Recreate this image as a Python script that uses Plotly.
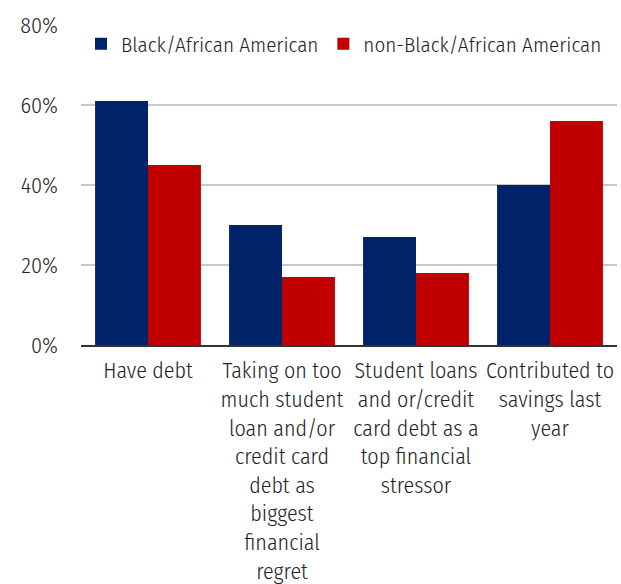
import plotly.graph_objects as go

categories = [
    "Have debt",
    "Taking on too<br>much student<br>loan and/or<br>credit card<br>debt as<br>biggest<br>financial<br>regret",
    "Student loans<br>and or/credit<br>card debt as a<br>top financial<br>stressor",
    "Contributed to<br>savings last<br>year",
]
black_values = [61, 30, 27, 40]
non_black_values = [45, 17, 18, 56]
series_names = ["Black/African American", "non-Black/African American"]
y_ticks = [0, 20, 40, 60, 80]
y_tick_labels = ["0%", "20%", "40%", "60%", "80%"]

FONT = "Fira Sans Condensed Light, Fira Sans Condensed, sans-serif"

fig = go.Figure()
fig.add_trace(go.Bar(x=categories, y=black_values, name=series_names[0],
                     marker=dict(color="#002369", line_width=0)))
fig.add_trace(go.Bar(x=categories, y=non_black_values, name=series_names[1],
                     marker=dict(color="#C00000", line_width=0)))

fig.update_layout(
    width=621, height=584,
    margin=dict(l=81, r=4, t=25, b=239),
    paper_bgcolor="white", plot_bgcolor="white",
    barmode="group", bargap=0.21, bargroupgap=0,
    font=dict(family=FONT, size=22, color="#222222"),
    legend=dict(orientation="h", x=0.0, xanchor="left", y=0.94, yanchor="middle",
                font=dict(size=21, color="#222222"), bgcolor="rgba(0,0,0,0)",
                itemwidth=30, traceorder="normal"),
    showlegend=True,
)
fig.update_yaxes(range=[0, 80], tickvals=y_ticks, ticktext=y_tick_labels,
                 showgrid=True, gridcolor="#C8C8C8", gridwidth=2,
                 zeroline=False, showline=False, ticks="", automargin=False,
                 ticklabelstandoff=22, tickfont=dict(size=22))
fig.update_xaxes(showline=True, linecolor="#333333", linewidth=2, ticks="",
                 automargin=False,
                 ticklabelstandoff=5, tickfont=dict(size=22), tickangle=0)

fig.write_html("out.html")
